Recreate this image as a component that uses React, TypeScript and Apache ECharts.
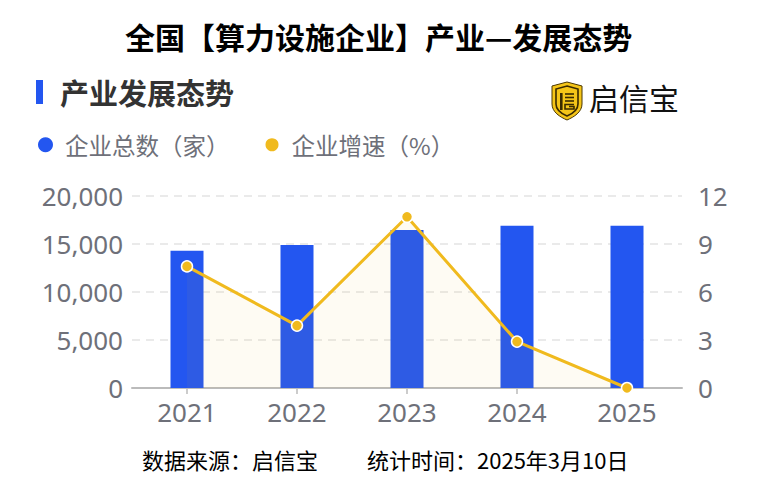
import React, { useEffect, useRef } from "react";
import * as echarts from "echarts";

const categories = ["2021", "2022", "2023", "2024", "2025"];
const companyCounts = [14300, 14900, 16450, 16900, 16900];
const growthRates = [7.6, 3.9, 10.7, 2.9, 0.0];
const leftTicks = { min: 0, max: 20000, interval: 5000 };
const rightTicks = { min: 0, max: 12, interval: 3 };
const legendNames = ["企业总数（家）", "企业增速（%）"];

const CJK = "'Noto Sans CJK SC', 'Noto Sans', sans-serif";
const NUM = "'Noto Sans', sans-serif";

echarts.graphic.registerShape(
  "shieldOuter",
  echarts.graphic.extendPath(
    "M15 0 L30 4 L30 22 C30 30 22 35 15 38 C8 35 0 30 0 22 L0 4 Z",
    {}
  )
);
echarts.graphic.registerShape(
  "shieldInner",
  echarts.graphic.extendPath(
    "M15 4 L26 7 L26 22 C26 28 21 31.5 15 34 C9 31.5 4 28 4 22 L4 7 Z",
    {}
  )
);

export default function App() {
  const ref = useRef<HTMLDivElement>(null);
  useEffect(() => {
    if (!ref.current) return;
    const chart = echarts.init(ref.current, undefined, { renderer: "svg" });
    const lx = 552;
    const ly = 82;
    chart.setOption({
      animation: false,
      backgroundColor: "#ffffff",
      title: {
        text: "全国【算力设施企业】产业—发展态势",
        left: 120,
        top: 16,
        textStyle: { fontFamily: CJK, fontSize: 30, fontWeight: "bold", color: "#000" },
      },
      legend: {
        left: 33,
        top: 128,
        itemWidth: 15,
        itemHeight: 15,
        itemGap: 34,
        icon: "circle",
        data: legendNames,
        textStyle: { fontFamily: CJK, fontSize: 23.5, color: "#6e7079", padding: [0, 0, 0, 7] },
      },
      grid: { left: 132, right: 86, top: 196, bottom: 107 },
      xAxis: {
        type: "category",
        data: categories,
        axisLine: { lineStyle: { color: "#bbbbbb", width: 2 } },
        axisTick: { show: true, alignWithLabel: true, length: 6, lineStyle: { color: "#bbbbbb", width: 1.5 } },
        axisLabel: { fontFamily: NUM, fontSize: 26, color: "#6e7079", margin: 11 },
      },
      yAxis: [
        {
          type: "value",
          min: leftTicks.min,
          max: leftTicks.max,
          interval: leftTicks.interval,
          axisLine: { show: false },
          axisTick: { show: false },
          axisLabel: {
            fontFamily: NUM,
            fontSize: 26,
            color: "#6e7079",
            margin: 9,
            formatter: (v: number) => v.toLocaleString("en-US"),
          },
          splitLine: { lineStyle: { color: "#e3e3e3", width: 1.5, type: [8, 6] } },
        },
        {
          type: "value",
          min: rightTicks.min,
          max: rightTicks.max,
          interval: rightTicks.interval,
          axisLine: { show: false },
          axisTick: { show: false },
          axisLabel: { fontFamily: NUM, fontSize: 26, color: "#6e7079", margin: 16 },
          splitLine: { show: false },
        },
      ],
      series: [
        {
          name: legendNames[0],
          type: "bar",
          data: companyCounts,
          barWidth: 33,
          itemStyle: { color: "#2356f0" },
          z: 2,
        },
        {
          name: legendNames[1],
          type: "line",
          yAxisIndex: 1,
          data: growthRates,
          symbol: "circle",
          symbolSize: 11,
          lineStyle: { color: "#f0ba1e", width: 3 },
          itemStyle: { color: "#f0ba1e", borderColor: "#ffffff", borderWidth: 1.5 },
          areaStyle: { color: "rgba(240,186,30,0.08)" },
          z: 3,
        },
      ],
      graphic: [
        { type: "rect", left: 36, top: 80, shape: { width: 7, height: 24 }, style: { fill: "#2356f0" } },
        {
          type: "text",
          left: 60,
          top: 77,
          style: { text: "产业发展态势", fontFamily: CJK, fontSize: 29, fontWeight: "bold", fill: "#333" },
        },
        {
          type: "group",
          children: [
            { type: "shieldOuter", x: lx, y: ly, style: { fill: "#f5c518", stroke: "#4a3600", lineWidth: 1 } },
            { type: "shieldInner", x: lx, y: ly, style: { fill: "none", stroke: "#3a2a00", lineWidth: 1.6 } },
            { type: "rect", x: lx + 8, y: ly + 11, shape: { width: 2.6, height: 17 }, style: { fill: "#3a2a00" } },
            { type: "line", shape: { x1: lx + 13, y1: ly + 12, x2: lx + 22, y2: ly + 12 }, style: { stroke: "#3a2a00", lineWidth: 1.6 } },
            { type: "line", shape: { x1: lx + 13, y1: ly + 15.5, x2: lx + 22, y2: ly + 15.5 }, style: { stroke: "#3a2a00", lineWidth: 1.6 } },
            { type: "line", shape: { x1: lx + 13, y1: ly + 19, x2: lx + 22, y2: ly + 19 }, style: { stroke: "#3a2a00", lineWidth: 1.6 } },
            { type: "polyline", shape: { points: [[lx + 22, ly + 22.5], [lx + 13, ly + 22.5], [lx + 13, ly + 27], [lx + 22, ly + 27], [lx + 22, ly + 24.5], [lx + 17, ly + 24.5]] }, style: { stroke: "#3a2a00", lineWidth: 1.6, fill: "none" } },
          ],
        },
        {
          type: "text",
          left: 589,
          top: 82,
          style: { text: "启信宝", fontFamily: CJK, fontSize: 30, fill: "#111" },
        },
        {
          type: "text",
          left: 142,
          top: 448,
          style: { text: "数据来源：启信宝", fontFamily: CJK, fontSize: 22, fill: "#000" },
        },
        {
          type: "text",
          left: 367,
          top: 448,
          style: { text: "统计时间：2025年3月10日", fontFamily: CJK, fontSize: 22, fill: "#000" },
        },
      ],
    });
    return () => chart.dispose();
  }, []);
  return (
    <div
      ref={ref}
      style={{ position: "fixed", left: 0, top: 0, width: 768, height: 495, background: "#fff" }}
    />
  );
}
